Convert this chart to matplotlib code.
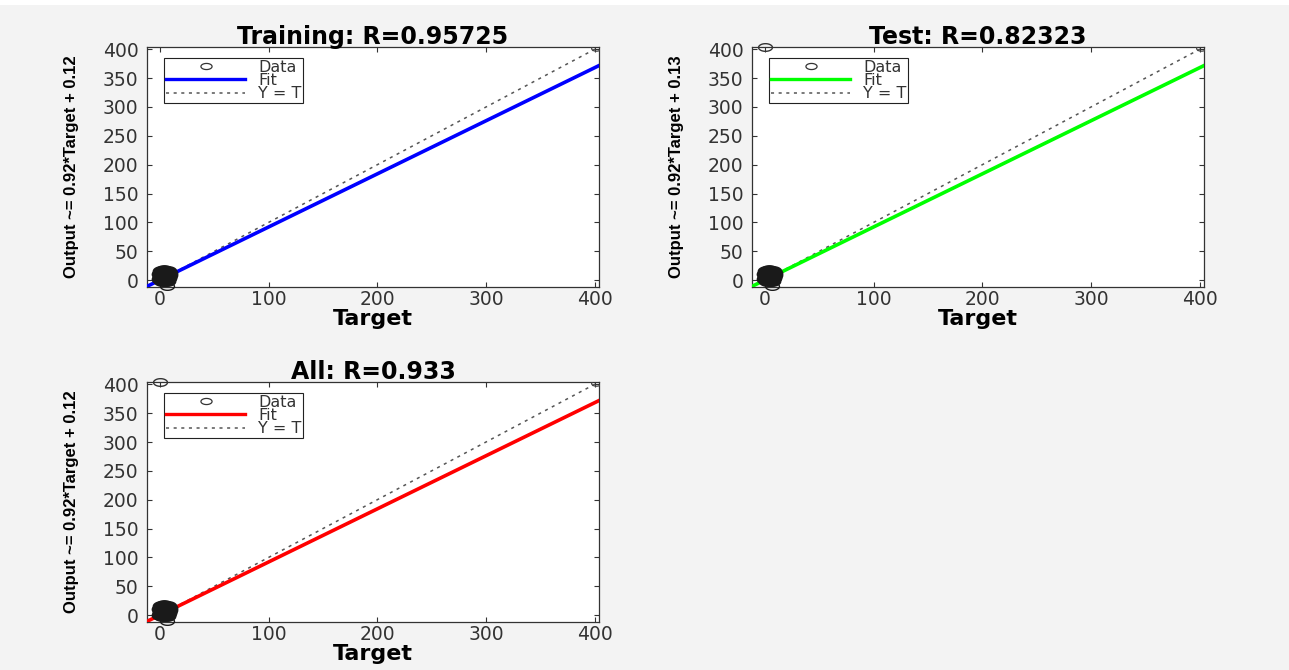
import numpy as np
import matplotlib
matplotlib.use("Agg")
import matplotlib.pyplot as plt
from matplotlib.path import Path
from matplotlib.lines import Line2D
from matplotlib.patches import Rectangle

# ---- data -------------------------------------------------------------
panel_titles = ["Training: R=0.95725", "Test: R=0.82323", "All: R=0.933"]
ylabels = ["Output ~= 0.92*Target + 0.12",
           "Output ~= 0.92*Target + 0.13",
           "Output ~= 0.92*Target + 0.12"]
fit_slope = [0.92, 0.92, 0.92]
fit_offset = [0.12, 0.13, 0.12]
fit_colors = ["#0000ff", "#00ff00", "#ff0000"]

# bulk of the samples (target, output)
cluster_target = [0.0, 0.5, 1.0, 1.5, 2.0, 2.5, 3.0, 3.5, 4.0, 4.5, 5.0, 5.5,
                  6.0, 6.5, 7.0, 7.5, 8.0, 1.0, 2.0, 3.0, 4.0, 5.0, 6.0, 7.0,
                  0.5, 1.5, 2.5, 3.5, 4.5, 5.5, 6.5, 7.5, 3.0, 5.0, 2.0, 6.0,
                  1.0, 4.0, 7.0, 8.5, 0.0, 3.0, 6.0]
cluster_output = [1.0, 3.0, 6.0, 2.0, 9.0, 4.0, 12.0, 7.0, 1.0, 10.0, 5.0, 13.0,
                  8.0, 3.0, 11.0, 6.0, 9.0, 12.0, -1.0, 0.0, 14.0, 2.0, 12.0, 4.0,
                  8.0, 10.0, 13.0, 3.0, 6.0, 9.0, 14.0, 12.0, 10.0, -2.0, 5.0, 1.0,
                  16.0, 17.0, 16.0, 13.0, 11.0, 15.0, -1.0]
low_point = (6.0, -10.0)
corner_point = (401.0, 403.0)
top_left_point = (0.0, 404.0)
has_top_left = [False, True, True]

axis_min, axis_max = -12.0, 404.0
xticks = [0, 100, 200, 300, 400]
yticks = [0, 50, 100, 150, 200, 250, 300, 350, 400]

# ---- style ------------------------------------------------------------
bg = "#f3f3f3"
W, H = 1289, 670
fig = plt.figure(figsize=(W / 100, H / 100), dpi=100, facecolor=bg)
fig.patches.append(Rectangle((0, 1 - 5 / H), 1, 5 / H, transform=fig.transFigure,
                             facecolor="white", edgecolor="none", zorder=-1))

# flattened circle used as the sample marker
t = np.linspace(0, 2 * np.pi, 60)
ellipse = Path(np.column_stack([np.cos(t), 0.55 * np.sin(t)]), closed=True)

boxes = [(147, 47), (752, 47), (147, 382)]
aw, ah = 452, 240

for i, (x0, y0) in enumerate(boxes):
    ax = fig.add_axes([x0 / W, 1 - (y0 + ah) / H, aw / W, ah / H])
    ax.set_facecolor("white")

    # Y = T reference
    ax.plot([axis_min, axis_max], [axis_min, axis_max], color="#555555",
            linestyle=(0, (2, 3)), linewidth=1.1, zorder=2)
    # linear fit
    xs = np.array([axis_min, axis_max])
    ax.plot(xs, fit_slope[i] * xs + fit_offset[i], color=fit_colors[i],
            linewidth=2.6, zorder=3)

    # samples
    ax.plot(cluster_target, cluster_output, linestyle="none", marker=ellipse,
            markersize=11, markerfacecolor="none", markeredgecolor="#1a1a1a",
            markeredgewidth=1.8, zorder=4)
    ax.plot([low_point[0]], [low_point[1]], linestyle="none", marker=ellipse,
            markersize=10, markerfacecolor="none", markeredgecolor="#1a1a1a",
            markeredgewidth=1.0, zorder=4, clip_on=False)
    ax.plot([corner_point[0]], [corner_point[1]], linestyle="none", marker=ellipse,
            markersize=7, markerfacecolor="none", markeredgecolor="#444444",
            markeredgewidth=0.9, zorder=4)
    if has_top_left[i]:
        ax.plot([top_left_point[0]], [top_left_point[1]], linestyle="none",
                marker=ellipse, markersize=10, markerfacecolor="none",
                markeredgecolor="#333333", markeredgewidth=1.0, zorder=5,
                clip_on=False)

    ax.set_xlim(axis_min, axis_max)
    ax.set_ylim(axis_min, axis_max)
    ax.set_xticks(xticks)
    ax.set_yticks(yticks)
    ax.tick_params(direction="in", length=3.5, width=0.8, top=True, right=True,
                   labelsize=13.5, labelcolor="#333333", color="#333333")
    ax.tick_params(axis="y", pad=6)
    ax.tick_params(axis="x", pad=2)
    for sp in ax.spines.values():
        sp.set_color("#333333")
        sp.set_linewidth(0.9)

    ax.set_title(panel_titles[i], fontsize=17, fontweight="bold", pad=2,
                 family="DejaVu Sans")
    ax.set_xlabel("Target", fontsize=16, fontweight="bold", labelpad=0)
    ax.set_ylabel(ylabels[i], fontsize=12, fontweight="bold", labelpad=17,
                  family=["DejaVu Sans Condensed", "Liberation Sans"])

    handles = [
        Line2D([], [], linestyle="none", marker=ellipse, markersize=8,
               markerfacecolor="none", markeredgecolor="#333333",
               markeredgewidth=0.9),
        Line2D([], [], color=fit_colors[i], linewidth=2.4),
        Line2D([], [], color="#555555", linestyle=(0, (2, 3)), linewidth=1.1),
    ]
    leg = ax.legend(handles, ["Data", "Fit", "Y = T"], loc="upper left",
                    bbox_to_anchor=(17 / aw, 1 - 11 / ah), borderaxespad=0,
                    fontsize=11.5, handlelength=5.0, handletextpad=0.8,
                    borderpad=0.1, labelspacing=-0.1, fancybox=False,
                    framealpha=1, edgecolor="#222222")
    leg.get_frame().set_linewidth(0.8)
    for txt in leg.get_texts():
        txt.set_color("#333333")

fig.savefig("out.png", dpi=100, facecolor=bg)
